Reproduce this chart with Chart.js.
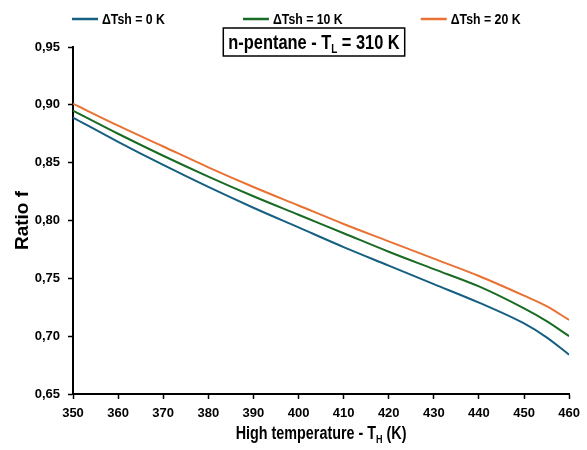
<!DOCTYPE html>
<html>
<head>
<meta charset="utf-8">
<script src="https://cdn.jsdelivr.net/npm/chart.js@4.4.1/dist/chart.umd.min.js"></script>
<style>
  html, body { margin: 0; padding: 0; background: #fff; }
</style>
</head>
<body>
<canvas id="ratioChart" width="587" height="450"></canvas>
<script>
// high temperature T_H (K)
var temps = [350, 360, 370, 380, 390, 400, 410, 420, 430, 440, 450, 455, 460];
// ratio f for each superheating
var ratio0K  = [0.889, 0.868, 0.848, 0.829, 0.811, 0.794, 0.777, 0.761, 0.745, 0.729, 0.711, 0.699, 0.684];
var ratio10K = [0.895, 0.875, 0.856, 0.838, 0.821, 0.805, 0.789, 0.773, 0.758, 0.743, 0.724, 0.713, 0.700];
var ratio20K = [0.901, 0.882, 0.864, 0.846, 0.829, 0.813, 0.797, 0.782, 0.767, 0.752, 0.735, 0.726, 0.714];
var seriesNames = ['ΔTsh = 0 K', 'ΔTsh = 10 K', 'ΔTsh = 20 K'];
var xTickValues = [350, 360, 370, 380, 390, 400, 410, 420, 430, 440, 450, 460];
var yTickValues = [0.65, 0.70, 0.75, 0.80, 0.85, 0.90, 0.95];

var FONT = '"Liberation Sans", Arial, sans-serif';
var SQUEEZE = 0.82; // no narrow face installed, so squeeze text sideways

function toPoints(ys) {
    return temps.map(function (t, i) { return { x: t, y: ys[i] }; });
}

function makeSeries(label, ys, color) {
    return {
        label: label,
        data: toPoints(ys),
        borderColor: color,
        backgroundColor: color,
        borderWidth: 2,
        pointRadius: 0,
        cubicInterpolationMode: 'monotone',
        fill: false
    };
}

function narrowText(ctx, text, x, y) {
    ctx.save();
    ctx.translate(x, y);
    ctx.scale(SQUEEZE, 1);
    ctx.fillText(text, 0, 0);
    ctx.restore();
    return ctx.measureText(text).width * SQUEEZE;
}

// draws pieces of text (some as subscripts) centred on cx
function drawRich(ctx, parts, cx, cy) {
    var total = 0;
    parts.forEach(function (p) {
        ctx.font = 'bold ' + p.size + 'px ' + FONT;
        p.w = ctx.measureText(p.t).width * SQUEEZE;
        total += p.w;
    });
    var x = cx - total / 2;
    ctx.textAlign = 'left';
    ctx.textBaseline = 'alphabetic';
    parts.forEach(function (p) {
        ctx.font = 'bold ' + p.size + 'px ' + FONT;
        narrowText(ctx, p.t, x, cy + (p.dy || 0));
        x += p.w;
    });
    return total;
}

var extras = {
    id: 'extras',
    afterDraw: function (chart) {
        var ctx = chart.ctx;
        var area = chart.chartArea;
        ctx.save();
        ctx.fillStyle = '#000';

        // legend row
        var lx = 72, ly = 19;
        ctx.font = 'bold 15px ' + FONT;
        ctx.textBaseline = 'middle';
        ctx.textAlign = 'left';
        chart.data.datasets.forEach(function (ds) {
            ctx.strokeStyle = ds.borderColor;
            ctx.lineWidth = 2.5;
            ctx.beginPath();
            ctx.moveTo(lx, ly);
            ctx.lineTo(lx + 26, ly);
            ctx.stroke();
            var tw = narrowText(ctx, ds.label, lx + 30, ly + 1);
            lx += 30 + tw + 78;
        });

        // boxed title
        var w = drawRich(ctx, [
            { t: 'n-pentane - T', size: 20 },
            { t: 'L', size: 12, dy: 4 },
            { t: ' = 310 K', size: 20 }
        ], 314, 49);
        ctx.strokeStyle = '#000';
        ctx.lineWidth = 1.5;
        ctx.strokeRect(314 - w / 2 - 5, 28, w + 10, 28);

        // x axis title
        drawRich(ctx, [
            { t: 'High temperature - T', size: 17.5 },
            { t: 'H', size: 11, dy: 4 },
            { t: ' (K)', size: 17.5 }
        ], (area.left + area.right) / 2, 439);

        ctx.restore();
    }
};

var axisGrid = {
    display: true,
    drawOnChartArea: false,
    drawTicks: true,
    tickLength: 5,
    tickColor: '#000',
    tickWidth: 1.5
};

var ratioChart = new Chart(document.getElementById('ratioChart'), {
    type: 'line',
    data: {
        datasets: [
            makeSeries(seriesNames[0], ratio0K, '#156082'),
            makeSeries(seriesNames[1], ratio10K, '#196B24'),
            makeSeries(seriesNames[2], ratio20K, '#E97132')
        ]
    },
    options: {
        responsive: false,
        animation: false,
        devicePixelRatio: 1,
        layout: { padding: { left: 0, right: 16, top: 47, bottom: 0 } },
        plugins: {
            legend: { display: false },
            tooltip: { enabled: false }
        },
        scales: {
            x: {
                type: 'linear',
                min: 350,
                max: 460,
                afterBuildTicks: function (s) {
                    s.ticks = xTickValues.map(function (v) { return { value: v }; });
                },
                afterFit: function (s) { s.height = 56; },
                ticks: {
                    color: '#000',
                    padding: 7,
                    maxRotation: 0,
                    autoSkip: false,
                    font: { family: FONT, size: 13, weight: 'bold' }
                },
                grid: axisGrid,
                border: { color: '#000', width: 2 }
            },
            y: {
                min: 0.65,
                max: 0.95,
                afterBuildTicks: function (s) {
                    s.ticks = yTickValues.map(function (v) { return { value: v }; });
                },
                afterFit: function (s) { s.width = 73; },
                ticks: {
                    color: '#000',
                    padding: 8,
                    font: { family: FONT, size: 13, weight: 'bold' },
                    callback: function (v) { return Number(v).toFixed(2).replace('.', ','); }
                },
                grid: axisGrid,
                border: { color: '#000', width: 2 },
                title: {
                    display: true,
                    text: 'Ratio f',
                    color: '#000',
                    font: { family: FONT, size: 19, weight: 'bold' },
                    padding: { top: 11, bottom: 0 }
                }
            }
        }
    },
    plugins: [extras]
});
</script>
</body>
</html>
